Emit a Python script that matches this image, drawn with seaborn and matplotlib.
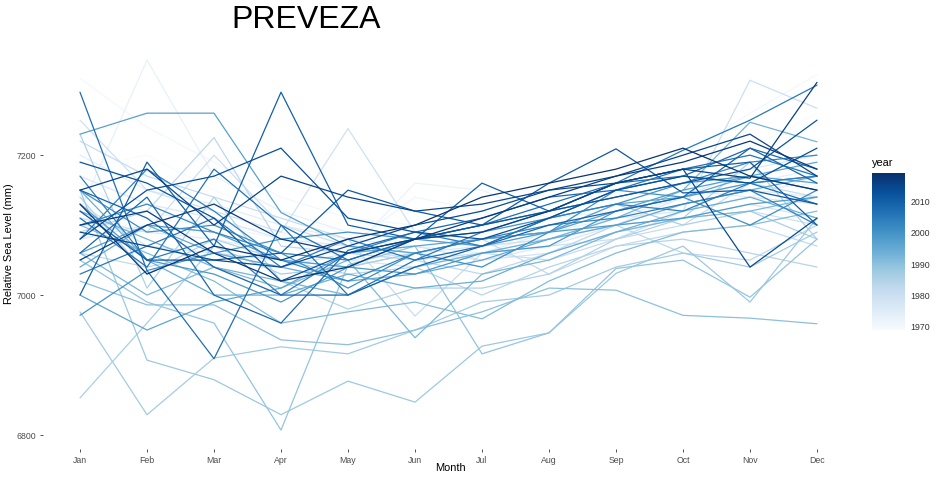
import numpy as np
import pandas as pd
import matplotlib
matplotlib.use("Agg")
import matplotlib.pyplot as plt
import seaborn as sns

# monthly relative sea level (mm) at Preveza, one row per year, Jan..Dec
months = ["Jan", "Feb", "Mar", "Apr", "May", "Jun",
          "Jul", "Aug", "Sep", "Oct", "Nov", "Dec"]
years = list(range(1969, 2019))
levels = [
    [7180, 7200, 7150, 7110, 7090, 7070, 7080, 7100, 7130, 7170, 7210, 7260],  # 1969
    [7310, 7240, 7190, 7140, 7110, 7100, 7090, 7110, 7150, 7200, 7260, 7315],  # 1970
    [7160, 7110, 7100, 7080, 7070, 7140, 7120, 7090, 7100, 7130, 7150, 7160],
    [7140, 7120, 7100, 7090, 7060, 7160, 7150, 7110, 7120, 7140, 7170, 7150],
    [7120, 7336, 7170, 7120, 7090, 7080, 7070, 7090, 7110, 7140, 7160, 7180],
    [7200, 7150, 7130, 7100, 7080, 7070, 7060, 7090, 7120, 7150, 7140, 7170],
    [7100, 7090, 7080, 7060, 7050, 7060, 7070, 7080, 7100, 7130, 7150, 7140],  # 1975
    [7170, 7130, 7110, 7080, 7070, 7060, 7050, 7070, 7100, 7140, 7180, 7200],
    [7080, 7100, 7090, 7060, 7050, 7040, 7060, 7080, 7110, 7120, 7140, 7130],
    [7130, 7070, 7060, 7040, 7060, 7070, 7050, 7060, 7090, 7110, 7130, 7110],
    [7250, 7150, 7120, 7090, 7238, 7090, 7070, 7080, 7100, 7110, 7120, 7100],
    [7110, 7090, 7200, 7100, 7070, 7050, 7060, 7070, 7080, 7120, 7307, 7267],  # 1980
    [7220, 7170, 7140, 7110, 7080, 6970, 7060, 7050, 7080, 7100, 7160, 7140],
    [7060, 7040, 7060, 7050, 7040, 7060, 7080, 7030, 7070, 7090, 7100, 7070],
    [7090, 7120, 7225, 7070, 7060, 7050, 7030, 7060, 7100, 7060, 7050, 7100],
    [7140, 7030, 7080, 7050, 7030, 7040, 7000, 7040, 7070, 7080, 7060, 7040],
    [7230, 7010, 7140, 7020, 6980, 7010, 7010, 7030, 7080, 7110, 7190, 7080],  # 1985
    [6853, 6960, 7070, 7030, 7040, 7060, 7080, 7090, 7130, 7100, 7120, 7080],
    [6976, 6829, 6910, 6926, 6916, 6950, 6990, 7000, 7040, 7060, 7040, 7090],
    [7150, 6907, 6879, 6829, 6877, 6847, 6927, 6946, 7031, 7070, 6990, 7110],
    [7050, 6990, 6960, 6807, 7043, 7070, 6916, 6946, 7038, 7050, 6997, 7080],
    [7020, 6986, 6986, 6936, 6929, 6950, 6976, 7010, 7007, 6971, 6967, 6959],  # 1990
    [7100, 7060, 7020, 6960, 6976, 6990, 6966, 7020, 7060, 7090, 7100, 7120],
    [7060, 7000, 7040, 7010, 7050, 6939, 7030, 7050, 7090, 7110, 7120, 7140],
    [7120, 7080, 7040, 7020, 7000, 7040, 7060, 7080, 7110, 7150, 7247, 7219],
    [7150, 7050, 7000, 7000, 7030, 7010, 7020, 7060, 7090, 7120, 7140, 7110],
    [7040, 7100, 7060, 7040, 7020, 7030, 7050, 7080, 7100, 7130, 7150, 7170],  # 1995
    [7000, 6950, 6990, 7010, 7060, 7070, 7080, 7090, 7130, 7140, 7170, 7190],
    [7230, 7260, 7260, 7118, 7070, 7060, 7080, 7090, 7120, 7150, 7170, 7160],
    [7060, 7100, 7090, 7050, 7040, 7080, 7070, 7090, 7100, 7110, 7130, 7140],
    [7130, 7050, 7030, 6990, 7040, 7030, 7060, 7070, 7120, 7140, 7160, 7170],
    [6971, 7035, 7060, 7080, 7090, 7080, 7090, 7110, 7130, 7160, 7170, 7150],  # 2000
    [7150, 7090, 7100, 7060, 7010, 7060, 7040, 7090, 7150, 7140, 7100, 7150],
    [7100, 7130, 7090, 7060, 7050, 7080, 7100, 7120, 7140, 7160, 7190, 7200],
    [7080, 7180, 7120, 7050, 7020, 7060, 7080, 7100, 7110, 7130, 7150, 7100],
    [7170, 7050, 7080, 7000, 7060, 7090, 7070, 7110, 7130, 7120, 7160, 7170],
    [7030, 7070, 7110, 7040, 7080, 7050, 7090, 7120, 7160, 7207, 7250, 7300],  # 2005
    [7110, 7040, 7180, 7100, 7000, 7050, 7070, 7110, 7150, 7180, 7200, 7170],
    [7290, 7035, 6909, 7100, 7050, 7080, 7100, 7130, 7160, 7170, 7160, 7130],
    [7060, 7140, 7000, 6960, 7064, 7090, 7110, 7140, 7150, 7170, 7210, 7180],
    [7150, 7110, 7040, 7000, 7000, 7040, 7070, 7100, 7120, 7140, 7210, 7160],
    [7000, 7190, 7070, 7290, 7100, 7080, 7160, 7120, 7160, 7180, 7190, 7100],  # 2010
    [7120, 7050, 7050, 7060, 7150, 7120, 7100, 7160, 7209, 7146, 7150, 7130],
    [7190, 7160, 7110, 7020, 7060, 7080, 7100, 7120, 7140, 7160, 7180, 7250],
    [7080, 7150, 7170, 7210, 7110, 7090, 7080, 7110, 7150, 7170, 7160, 7210],
    [7090, 7070, 7050, 7040, 7070, 7100, 7120, 7150, 7160, 7180, 7040, 7110],
    [7150, 7180, 7100, 7170, 7140, 7120, 7130, 7150, 7170, 7200, 7230, 7170],  # 2015
    [7050, 7100, 7130, 7080, 7060, 7080, 7090, 7120, 7160, 7180, 7167, 7304],
    [7100, 7120, 7060, 7020, 7040, 7080, 7110, 7140, 7170, 7190, 7220, 7180],
    [7130, 7030, 7070, 7050, 7080, 7100, 7140, 7160, 7180, 7210, 7170, 7150],  # 2018
]

rows = []
for yr, vals in zip(years, levels):
    for m, v in enumerate(vals, start=1):
        rows.append({"year": yr, "month": m, "level": v})
df = pd.DataFrame(rows)

sns.set_style("white")
plt.rcParams["font.family"] = ["Liberation Sans", "DejaVu Sans"]

W, H = 940, 480
fig = plt.figure(figsize=(9.4, 4.8), dpi=100)
# panel from x=43..857 px, y=39..449 px
ax = fig.add_axes([43 / W, 31 / H, 814 / W, 410 / H])

norm = (1969, 2019)
sns.lineplot(data=df, x="month", y="level", hue="year", palette="Blues",
             hue_norm=norm, units="year", estimator=None, legend=False,
             linewidth=0.9, ax=ax)

ax.set_xlim(1 - 37 / 67, 12 + 40 / 67)
ax.set_ylim(6780, 7366)
ax.set_xticks(range(1, 13))
ax.set_xticklabels(months)
ax.set_yticks([6800, 7000, 7200])
for s in ax.spines.values():
    s.set_visible(False)
ax.tick_params(axis="both", bottom=True, left=True, length=2, width=0.6,
               color="#333333", labelcolor="#4d4d4d", labelsize=6.3, pad=3)
ax.set_xlabel("Month", fontsize=7.9, color="black")
ax.set_ylabel("Relative Sea Level (mm)", fontsize=7.9, color="black")
ax.yaxis.set_label_coords((14 - 43) / 814, 0.5)
ax.xaxis.set_label_coords((450 - 43) / 814, (449 - 463) / 410)

fig.text(306 / W, 1 - 20 / H, "PREVEZA", fontsize=23, color="black",
         ha="center", va="center")

# colour bar legend
cax = fig.add_axes([872 / W, 150 / H, 33 / W, 157 / H])
sm = matplotlib.cm.ScalarMappable(cmap="Blues",
                                  norm=matplotlib.colors.Normalize(*norm))
cb = fig.colorbar(sm, cax=cax, ticks=[1970, 1980, 1990, 2000, 2010])
cb.outline.set_visible(False)
cax.tick_params(left=True, right=True, length=4, width=0.6, color="white",
                direction="in", labelsize=6.3, labelcolor="#333333", pad=4)
fig.text(872 / W, 1 - 163 / H, "year", fontsize=7.9, color="black",
         ha="left", va="center")

fig.savefig("out.png", dpi=100)
